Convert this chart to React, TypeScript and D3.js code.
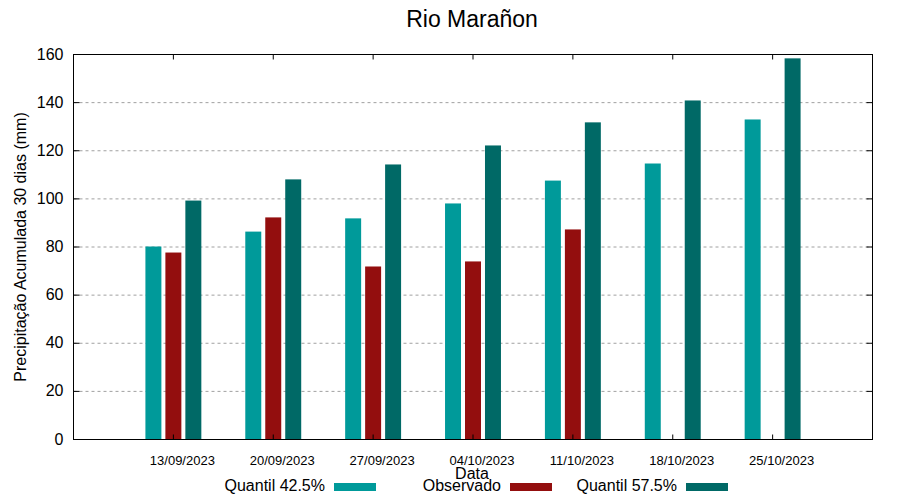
import React from 'react'
import * as d3 from 'd3'

// datas e series (mm)
const datas = ['13/09/2023', '20/09/2023', '27/09/2023', '04/10/2023', '11/10/2023', '18/10/2023', '25/10/2023']
const quantil425 = [80.2, 86.4, 91.9, 98.1, 107.6, 114.7, 133.0]
const observado: (number | null)[] = [77.7, 92.3, 71.9, 74.0, 87.3, null, null]
const quantil575 = [99.3, 108.1, 114.3, 122.2, 131.8, 140.9, 158.4]
const yTicks = [0, 20, 40, 60, 80, 100, 120, 140, 160]

const series = [
  { name: 'Quantil 42.5%', values: quantil425 as (number | null)[], color: '#009a9a', off: -0.2 },
  { name: 'Observado', values: observado, color: '#930e0e', off: 0 },
  { name: 'Quantil 57.5%', values: quantil575 as (number | null)[], color: '#006966', off: 0.2 },
]

function App() {
  const width = 900
  const height = 500
  const left = 73.5
  const right = 872.5
  const top = 54.5
  const bottom = 439.5

  const x = d3.scaleLinear().domain([0, datas.length + 1]).range([left, right])
  const y = d3.scaleLinear().domain([0, 160]).range([bottom, top])
  const barW = x(0.16) - x(0)
  const font = "'Liberation Sans', Arial, sans-serif"

  return (
    <svg width={width} height={height} style={{ position: 'absolute', left: 0, top: 0, background: '#fff' }} fontFamily={font}>
      <rect x={0} y={0} width={width} height={height} fill="#fff" />
      <text x={472} y={27} textAnchor="middle" fontSize={23}>Rio Marañon</text>

      {/* grid */}
      {yTicks.filter((t) => t > 0 && t < 160).map((t) => (
        <line key={'g' + t} x1={left} x2={right} y1={y(t)} y2={y(t)} stroke="#a0a0a0" strokeWidth={1} strokeDasharray="3,3" />
      ))}

      {/* bars */}
      {series.map((s) =>
        s.values.map((v, i) =>
          v == null ? null : (
            <rect
              key={s.name + i}
              x={x(i + 1 + s.off) - barW / 2}
              y={y(v)}
              width={barW}
              height={y(0) - y(v)}
              fill={s.color}
            />
          )
        )
      )}

      {/* border */}
      <rect x={left} y={top} width={right - left} height={bottom - top} fill="none" stroke="#000" strokeWidth={1} />

      {/* y ticks */}
      {yTicks.map((t) => (
        <g key={'y' + t}>
          <line x1={left} x2={left + 6} y1={y(t)} y2={y(t)} stroke="#000" />
          <line x1={right} x2={right - 6} y1={y(t)} y2={y(t)} stroke="#000" />
          <text x={left - 10} y={y(t) + 5} textAnchor="end" fontSize={16}>{t}</text>
        </g>
      ))}

      {/* x ticks */}
      {datas.map((d, i) => (
        <g key={d}>
          <line x1={x(i + 1)} x2={x(i + 1)} y1={bottom} y2={bottom - 5} stroke="#000" />
          <line x1={x(i + 1)} x2={x(i + 1)} y1={top} y2={top + 5} stroke="#000" />
          <text x={x(i + 1) + 9} y={465} textAnchor="middle" fontSize={13}>{d}</text>
        </g>
      ))}

      <text x={472} y={479} textAnchor="middle" fontSize={16}>Data</text>
      <text transform={`translate(26,${(top + bottom) / 2}) rotate(-90)`} textAnchor="middle" fontSize={16}>
        Precipitação Acumulada 30 dias (mm)
      </text>

      {/* legend */}
      {series.map((s, i) => {
        const bx = 334 + i * 176
        return (
          <g key={'l' + s.name}>
            <text x={bx - 9} y={491} textAnchor="end" fontSize={16}>{s.name}</text>
            <rect x={bx} y={483} width={42} height={8} fill={s.color} />
          </g>
        )
      })}
    </svg>
  )
}

export default App
